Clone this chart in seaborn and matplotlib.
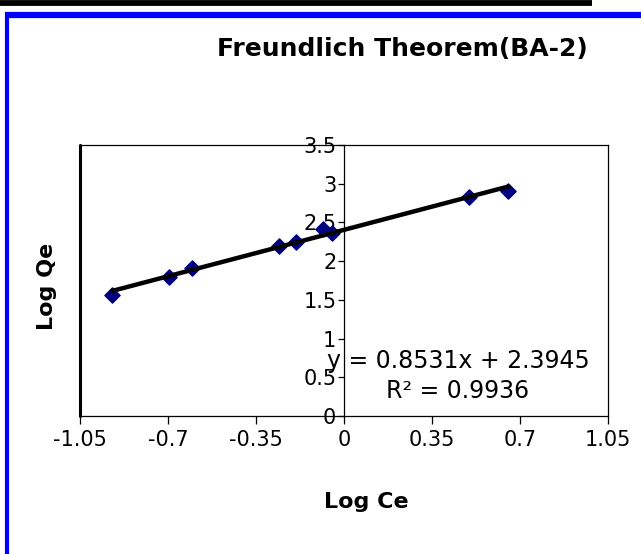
import numpy as np
import pandas as pd
import matplotlib
matplotlib.use("Agg")
import matplotlib.pyplot as plt
from matplotlib.lines import Line2D
from matplotlib.ticker import FuncFormatter
import seaborn as sns

# values
log_ce = [-0.922, -0.696, -0.603, -0.259, -0.192, -0.082, -0.049, 0.498, 0.654]
log_qe = [1.563, 1.790, 1.908, 2.196, 2.252, 2.416, 2.360, 2.833, 2.907]
x_ticks = [-1.05, -0.7, -0.35, 0, 0.35, 0.7, 1.05]
y_ticks = [0, 0.5, 1, 1.5, 2, 2.5, 3, 3.5]
title = "Freundlich Theorem(BA-2)"
eq_text = "y = 0.8531x + 2.3945"
r2_text = "R\u00b2 = 0.9936"

df = pd.DataFrame({"Log Ce": log_ce, "Log Qe": log_qe})

sns.set_style("ticks")
plt.rcParams["font.family"] = ["DejaVu Sans"]
plt.rcParams["text.color"] = "black"
plt.rcParams["axes.labelcolor"] = "black"

W, H = 641, 554
fig = plt.figure(figsize=(W / 100, H / 100), dpi=100)
ax = fig.add_axes([80 / W, 1 - 416 / H, 528 / W, 271 / H])

sns.regplot(data=df, x="Log Ce", y="Log Qe", ax=ax, ci=None, truncate=True,
            marker="D",
            scatter_kws={"color": "#000080", "s": 60, "alpha": 1, "zorder": 3},
            line_kws={"color": "black", "lw": 3.2, "zorder": 4})

ax.set_xlim(x_ticks[0], x_ticks[-1])
ax.set_ylim(y_ticks[0], y_ticks[-1])
ax.set_xticks(x_ticks)
ax.set_yticks(y_ticks)
fmt = FuncFormatter(lambda v, p: f"{v:g}")
ax.xaxis.set_major_formatter(fmt)
ax.yaxis.set_major_formatter(fmt)

# y axis crosses at x = 0, plot area box around it
ax.spines["left"].set_position(("data", 0))
for side in ["left", "right", "top", "bottom"]:
    ax.spines[side].set_visible(True)
    ax.spines[side].set_color("black")
    ax.spines[side].set_linewidth(0.9)
ax.axvline(x_ticks[0], color="black", lw=2.2, clip_on=False, zorder=5)

ax.tick_params(axis="x", direction="out", length=6, width=0.9, pad=4,
               labelsize=15, colors="black")
ax.tick_params(axis="y", direction="out", length=4.5, width=0.9, pad=1,
               labelsize=15, colors="black")

ax.set_xlabel("Log Ce", fontsize=16, fontweight="bold", color="black")
ax.xaxis.set_label_coords((366 - 80) / 528, (416 - 492) / 271)
ax.xaxis.label.set_va("top")
ax.set_ylabel("Log Qe", fontsize=16, fontweight="bold", color="black")
ax.yaxis.label.set(va="center", ha="center", rotation_mode="default")
ax.yaxis.set_label_coords((47 - 80) / 528, (416 - 286) / 271)

ax.text((458 - 80) / 528, (416 - 361) / 271, eq_text, transform=ax.transAxes,
        ha="center", va="center", fontsize=17, color="black")
ax.text((458 - 80) / 528, (416 - 391) / 271, r2_text, transform=ax.transAxes,
        ha="center", va="center", fontsize=17, color="black")

fig.text(402 / W, 1 - 49 / H, title, ha="center", va="center",
         fontsize=18, fontweight="bold", color="black")

# page frame around the chart
fig.add_artist(Line2D([0, 592 / W], [1 - 2.8 / H, 1 - 2.8 / H],
                      color="black", lw=4.2, solid_capstyle="butt",
                      transform=fig.transFigure))
fig.add_artist(Line2D([5 / W, 1], [1 - 15 / H, 1 - 15 / H],
                      color="#0000FF", lw=4.5, solid_capstyle="butt",
                      transform=fig.transFigure))
fig.add_artist(Line2D([7 / W, 7 / W], [0, 1 - 12 / H],
                      color="#0000FF", lw=3, solid_capstyle="butt",
                      transform=fig.transFigure))

fig.savefig("out.png", dpi=100, facecolor="white")
